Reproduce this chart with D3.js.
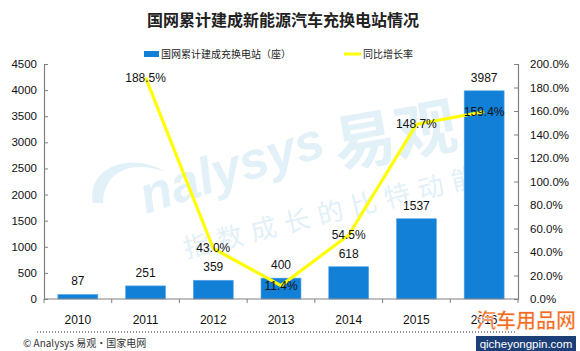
<!DOCTYPE html>
<html>
<head>
<meta charset="utf-8">
<script src="https://cdn.jsdelivr.net/npm/d3@7"></script>
<style>
  body { margin: 0; background: #fff; }
  svg { display: block; font-family: "Liberation Sans", "Noto Sans CJK SC", sans-serif; }
</style>
</head>
<body>
<svg id="chart" width="580" height="351"></svg>
<script>
var years = ['2010', '2011', '2012', '2013', '2014', '2015', '2016'];
var stations = [87, 251, 359, 400, 618, 1537, 3987];
var growth = [null, 188.5, 43.0, 11.4, 54.5, 148.7, 159.4];
var leftTicks = [0, 500, 1000, 1500, 2000, 2500, 3000, 3500, 4000, 4500];
var rightTicks = [0, 20, 40, 60, 80, 100, 120, 140, 160, 180, 200];

const plotL = 44, plotR = 518, plotT = 64, plotB = 299;
const cjk = '"Noto Sans CJK SC", sans-serif';

var svg = d3.select('#chart');

// faint watermark (sits under the bars)
var wmColor = '#e2f0f8';
var wm = svg.append('g').attr('fill', wmColor);
wm.append('text').attr('transform', 'translate(146,214) rotate(-18)')
    .style('font', 'italic bold 52px "Liberation Sans", sans-serif')
    .text('nalysys');
wm.append('text').attr('transform', 'translate(338,168) rotate(-10)')
    .style('font', 'bold 62px ' + cjk)
    .text('易观');
wm.append('text').attr('transform', 'translate(186,258) rotate(-14)')
    .style('font', '26px ' + cjk).attr('letter-spacing', 8.5)
    .text('指数成长的比特动能');
wm.append('path')
    .attr('d', 'M93,203 C86,168 130,150 166,172 C133,160 104,170 103,203 Z');

var x = d3.scaleBand().domain(years).range([plotL, plotR]).paddingInner(0.41).paddingOuter(0.205);
var xc = d3.scalePoint().domain(years).range([plotL, plotR]).padding(0.5);
var y = d3.scaleLinear().domain([0, 4500]).range([plotB, plotT]);
var y2 = d3.scaleLinear().domain([0, 200]).range([plotB, plotT]);

// title
svg.append('text').attr('x', 283).attr('y', 26).attr('text-anchor', 'middle')
    .style('font', 'bold 16px ' + cjk).attr('fill', '#222')
    .text('国网累计建成新能源汽车充换电站情况');

// legend
svg.append('rect').attr('x', 144).attr('y', 51).attr('width', 15).attr('height', 6).attr('fill', '#1380d8');
svg.append('text').attr('x', 161).attr('y', 58).style('font', '10px ' + cjk).attr('fill', '#222')
    .text('国网累计建成充换电站（座）');
svg.append('line').attr('x1', 344).attr('x2', 361).attr('y1', 54).attr('y2', 54)
    .attr('stroke', '#ffff00').attr('stroke-width', 3);
svg.append('text').attr('x', 363).attr('y', 58).style('font', '10px ' + cjk).attr('fill', '#222')
    .text('同比增长率');

// bars
svg.append('g').selectAll('rect').data(stations).join('rect')
    .attr('x', (d, i) => x(years[i]))
    .attr('y', d => y(d))
    .attr('width', x.bandwidth())
    .attr('height', d => plotB - y(d))
    .attr('fill', '#1380d8')
    .attr('stroke', '#5aa9e8').attr('stroke-width', 0.6);

// axes
var axisColor = '#808080';
var gl = svg.append('g').attr('transform', `translate(${plotL},0)`)
    .call(d3.axisRight(y).tickValues(leftTicks).tickSize(4).tickFormat(''));
var gr = svg.append('g').attr('transform', `translate(${plotR},0)`)
    .call(d3.axisLeft(y2).tickValues(rightTicks).tickSize(4).tickFormat(''));
[gl, gr].forEach(g => {
  g.select('.domain').attr('stroke', axisColor).attr('stroke-width', 1.2);
  g.selectAll('.tick line').attr('stroke', axisColor);
});
svg.append('g').selectAll('text').data(leftTicks).join('text')
    .attr('x', 37).attr('y', d => y(d) + 4).attr('text-anchor', 'end')
    .style('font', '11.5px "Liberation Sans", sans-serif').attr('fill', '#111')
    .text(d => d);
svg.append('g').selectAll('text').data(rightTicks).join('text')
    .attr('x', 530).attr('y', d => y2(d) + 4)
    .style('font', '11.5px "Liberation Sans", sans-serif').attr('fill', '#111')
    .text(d => d.toFixed(1) + '%');

var step = (plotR - plotL) / years.length;
svg.append('line').attr('x1', plotL).attr('x2', plotR).attr('y1', plotB).attr('y2', plotB)
    .attr('stroke', axisColor).attr('stroke-width', 1.2);
svg.append('g').selectAll('line').data(d3.range(years.length + 1)).join('line')
    .attr('x1', d => plotL + d * step).attr('x2', d => plotL + d * step)
    .attr('y1', plotB).attr('y2', plotB + 4).attr('stroke', axisColor);
svg.append('g').selectAll('text').data(years).join('text')
    .attr('x', d => xc(d)).attr('y', 324).attr('text-anchor', 'middle')
    .style('font', '12px "Liberation Sans", sans-serif').attr('fill', '#111')
    .text(d => d);

// growth line
var pts = growth.map((d, i) => [xc(years[i]), d]).filter(p => p[1] != null);
svg.append('path')
    .attr('d', d3.line().x(p => p[0]).y(p => y2(p[1]))(pts))
    .attr('fill', 'none').attr('stroke', '#ffff00').attr('stroke-width', 3.2)
    .attr('stroke-linejoin', 'round');

// data labels
svg.append('g').selectAll('text').data(stations).join('text')
    .attr('x', (d, i) => xc(years[i])).attr('y', d => y(d) - 9).attr('text-anchor', 'middle')
    .style('font', '12px "Liberation Sans", sans-serif').attr('fill', '#111')
    .text(d => d);
svg.append('g').selectAll('text').data(pts).join('text')
    .attr('x', p => p[0]).attr('y', p => y2(p[1]) + 4).attr('text-anchor', 'middle')
    .style('font', '12px "Liberation Sans", sans-serif').attr('fill', '#111')
    .text(p => p[1].toFixed(1) + '%');

// footer
svg.append('line').attr('x1', 37).attr('x2', 517).attr('y1', 332).attr('y2', 332)
    .attr('stroke', '#333').attr('stroke-dasharray', '1,2');
svg.append('text').attr('x', 23).attr('y', 347)
    .style('font', '10px ' + cjk).attr('fill', '#333')
    .text('© Analysys 易观·国家电网');

// site stamp
svg.append('text').attr('x', 526).attr('y', 328).attr('text-anchor', 'middle')
    .style('font', 'bold 20px ' + cjk).attr('fill', '#f26b21')
    .attr('stroke', '#fff').attr('stroke-width', 0.5)
    .text('汽车用品网');
svg.append('rect').attr('x', 476).attr('y', 336).attr('width', 100).attr('height', 15).attr('fill', '#1d3f78');
svg.append('text').attr('x', 526).attr('y', 348).attr('text-anchor', 'middle')
    .style('font', '11.5px "Liberation Sans", sans-serif').attr('fill', '#fff')
    .text('qicheyongpin.com');
</script>
</body>
</html>
